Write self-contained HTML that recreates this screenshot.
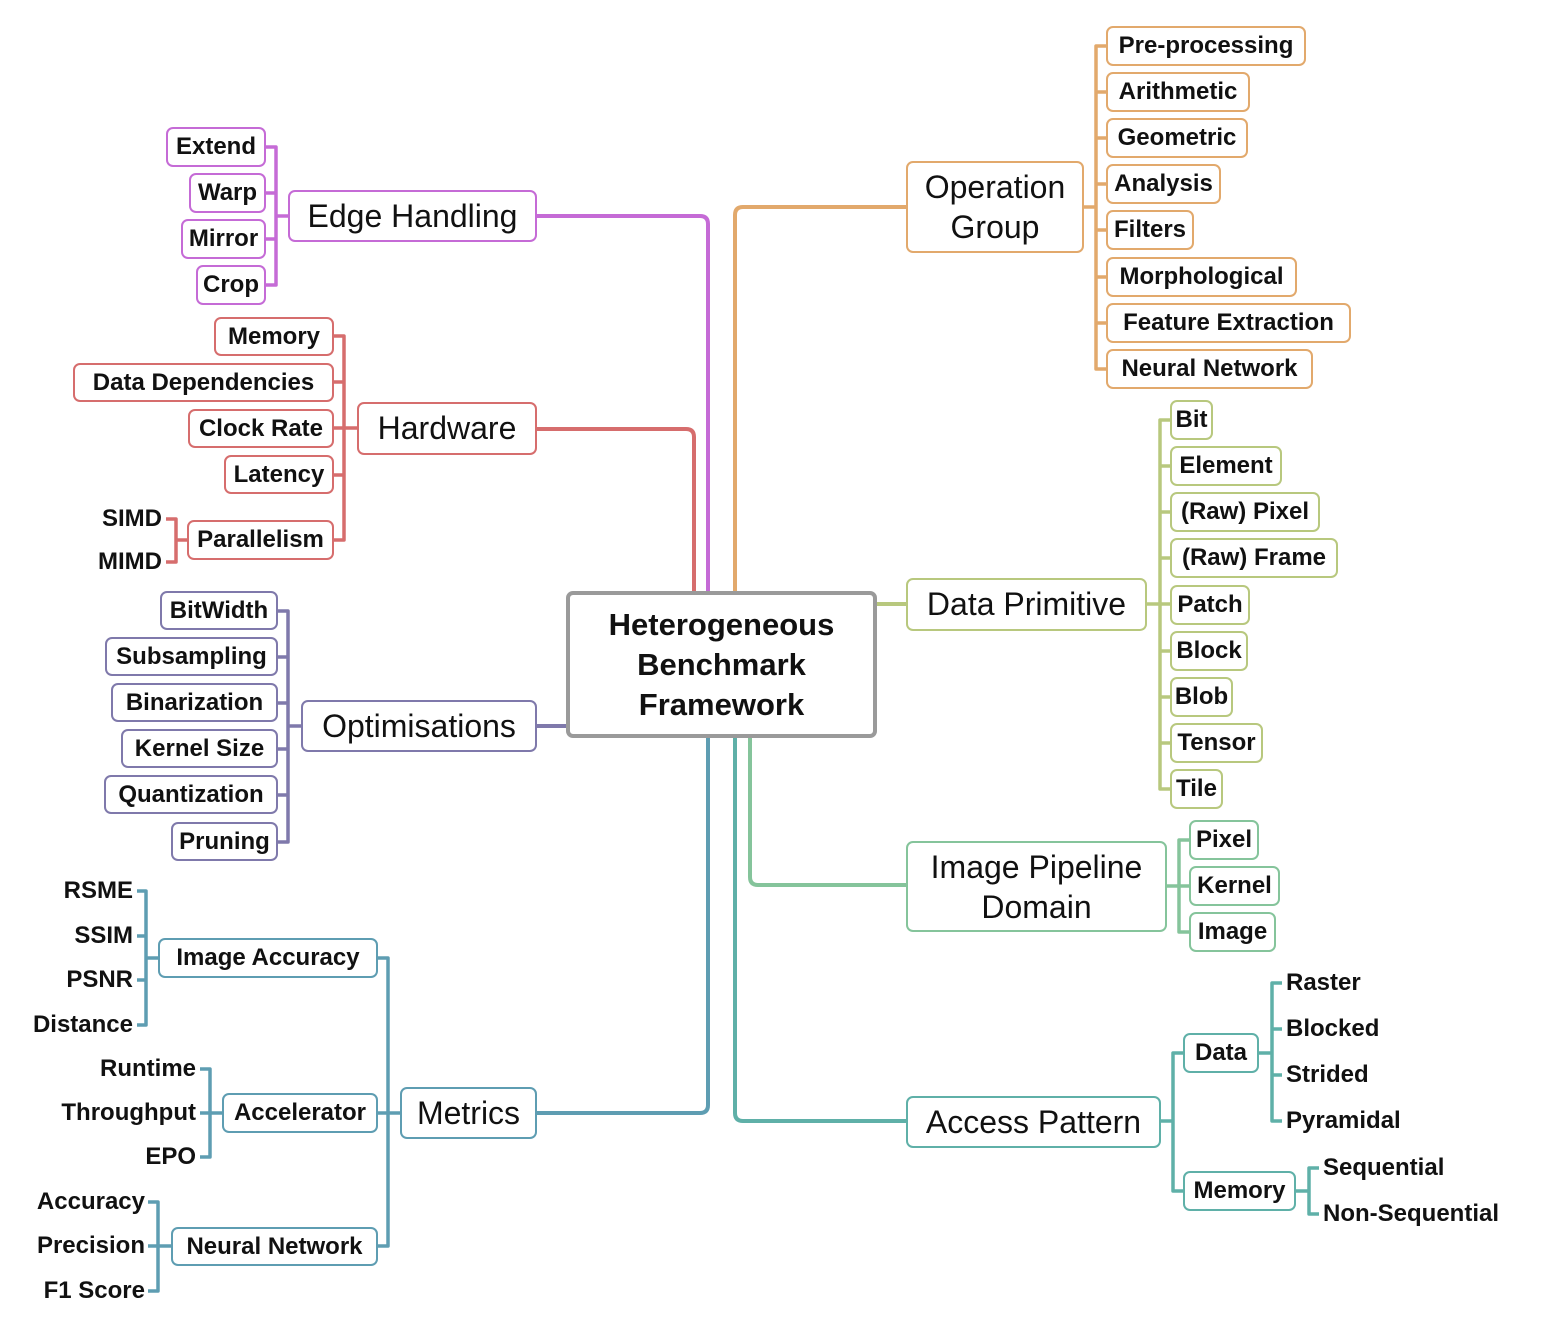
<!DOCTYPE html>
<html><head><meta charset="utf-8"><style>
html,body{margin:0;padding:0;background:#fff;}
body{width:1557px;height:1334px;position:relative;overflow:hidden;font-family:"Liberation Sans","DejaVu Sans",sans-serif;color:#111;}
.b{position:absolute;box-sizing:border-box;border:2px solid;border-radius:7px;background:#fff;display:flex;align-items:center;justify-content:center;font-weight:bold;font-size:24px;white-space:nowrap;text-align:center;line-height:1.15;}
.m{font-weight:normal;font-size:32px;}
.t{position:absolute;font-weight:bold;font-size:24px;white-space:nowrap;line-height:30px;}
.r{text-align:right;}
.pu{border-color:#c56bd6}.rd{border-color:#d66d6d}.or{border-color:#e2a96c}.gy{border-color:#b8c87e}.gr{border-color:#85c49b}.tl{border-color:#5fb0a8}.bl{border-color:#5e9db2}.sl{border-color:#7f79ab}
svg{position:absolute;left:0;top:0;}
</style></head><body>
<svg width="1557" height="1334" fill="none" stroke-width="4" stroke-linejoin="round">
<path d="M537 216 H700 Q708 216 708 224 V592" stroke="#c56bd6"/>
<path d="M537 429 H686 Q694 429 694 437 V592" stroke="#d66d6d"/>
<path d="M537 726 H566" stroke="#7f79ab"/>
<path d="M537 1113 H700 Q708 1113 708 1105 V738" stroke="#5e9db2"/>
<path d="M735 592 V215 Q735 207 743 207 H906" stroke="#e2a96c"/>
<path d="M877 604 H906" stroke="#b8c87e"/>
<path d="M750 738 V877 Q750 885 758 885 H906" stroke="#85c49b"/>
<path d="M735 738 V1113 Q735 1121 743 1121 H906" stroke="#5fb0a8"/>
<g stroke-width="3.5">
<path d="M266 147 H276 V285 H266 M266 193 H276 M266 239 H276 M276 216 H288" stroke="#c56bd6"/>
<path d="M334 336 H344 V540 H334 M334 382 H344 M334 428 H357 M334 475 H344" stroke="#d66d6d"/>
<path d="M166 519 H176 V562 H166 M176 540 H187" stroke="#d66d6d"/>
<path d="M278 611 H288 V842 H278 M278 657 H288 M278 703 H288 M278 749 H288 M278 795 H288 M288 726 H301" stroke="#7f79ab"/>
<path d="M137 891 H146 V1025 H137 M137 936 H146 M137 980 H146 M146 958 H158" stroke="#5e9db2"/>
<path d="M200 1069 H210 V1157 H200 M200 1113 H222" stroke="#5e9db2"/>
<path d="M148 1202 H158 V1291 H148 M148 1246 H171" stroke="#5e9db2"/>
<path d="M378 958 H388 V1246 H378 M378 1113 H400" stroke="#5e9db2"/>
<path d="M1084 207 H1096 M1106 46 H1096 V369 H1106 M1096 92 H1106 M1096 138 H1106 M1096 184 H1106 M1096 230 H1106 M1096 277 H1106 M1096 323 H1106" stroke="#e2a96c"/>
<path d="M1147 604 H1170 M1170 420 H1160 V789 H1170 M1160 466 H1170 M1160 512 H1170 M1160 558 H1170 M1160 651 H1170 M1160 697 H1170 M1160 743 H1170" stroke="#b8c87e"/>
<path d="M1167 886 H1189 M1189 840 H1179 V932 H1189" stroke="#85c49b"/>
<path d="M1161 1121 H1173 M1183 1053 H1173 V1191 H1183" stroke="#5fb0a8"/>
<path d="M1259 1053 H1272 M1282 983 H1272 V1121 H1282 M1272 1029 H1282 M1272 1075 H1282" stroke="#5fb0a8"/>
<path d="M1296 1191 H1309 M1319 1168 H1309 V1214 H1319" stroke="#5fb0a8"/>
</g>
</svg>

<div class="b" style="left:566px;top:591px;width:311px;height:147px;border:4px solid #9a9a9a;font-size:31px;line-height:40px;">Heterogeneous<br>Benchmark<br>Framework</div>

<div class="b m pu" style="left:288px;top:190px;width:249px;height:52px;">Edge Handling</div>
<div class="b pu" style="left:166px;top:127px;width:100px;height:40px;">Extend</div>
<div class="b pu" style="left:189px;top:173px;width:77px;height:40px;">Warp</div>
<div class="b pu" style="left:181px;top:219px;width:85px;height:40px;">Mirror</div>
<div class="b pu" style="left:196px;top:265px;width:70px;height:40px;">Crop</div>

<div class="b m rd" style="left:357px;top:402px;width:180px;height:53px;">Hardware</div>
<div class="b rd" style="left:214px;top:317px;width:120px;height:39px;">Memory</div>
<div class="b rd" style="left:73px;top:363px;width:261px;height:39px;">Data Dependencies</div>
<div class="b rd" style="left:188px;top:409px;width:146px;height:39px;">Clock Rate</div>
<div class="b rd" style="left:224px;top:455px;width:110px;height:39px;">Latency</div>
<div class="b rd" style="left:187px;top:520px;width:147px;height:40px;">Parallelism</div>
<div class="t r" style="left:60px;top:504px;width:102px;">SIMD</div>
<div class="t r" style="left:60px;top:547px;width:102px;">MIMD</div>

<div class="b m sl" style="left:301px;top:700px;width:236px;height:52px;">Optimisations</div>
<div class="b sl" style="left:160px;top:591px;width:118px;height:39px;">BitWidth</div>
<div class="b sl" style="left:105px;top:637px;width:173px;height:39px;">Subsampling</div>
<div class="b sl" style="left:111px;top:683px;width:167px;height:39px;">Binarization</div>
<div class="b sl" style="left:121px;top:729px;width:157px;height:39px;">Kernel Size</div>
<div class="b sl" style="left:104px;top:775px;width:174px;height:39px;">Quantization</div>
<div class="b sl" style="left:171px;top:822px;width:107px;height:39px;">Pruning</div>

<div class="b m bl" style="left:400px;top:1087px;width:137px;height:52px;">Metrics</div>
<div class="b bl" style="left:158px;top:938px;width:220px;height:40px;">Image Accuracy</div>
<div class="b bl" style="left:222px;top:1093px;width:156px;height:40px;">Accelerator</div>
<div class="b bl" style="left:171px;top:1227px;width:207px;height:39px;">Neural Network</div>
<div class="t r" style="left:0px;top:876px;width:133px;">RSME</div>
<div class="t r" style="left:0px;top:921px;width:133px;">SSIM</div>
<div class="t r" style="left:0px;top:965px;width:133px;">PSNR</div>
<div class="t r" style="left:0px;top:1010px;width:133px;">Distance</div>
<div class="t r" style="left:0px;top:1054px;width:196px;">Runtime</div>
<div class="t r" style="left:0px;top:1098px;width:196px;">Throughput</div>
<div class="t r" style="left:0px;top:1142px;width:196px;">EPO</div>
<div class="t r" style="left:0px;top:1187px;width:145px;">Accuracy</div>
<div class="t r" style="left:0px;top:1231px;width:145px;">Precision</div>
<div class="t r" style="left:0px;top:1276px;width:145px;">F1 Score</div>

<div class="b m or" style="left:906px;top:161px;width:178px;height:92px;line-height:40px;">Operation<br>Group</div>
<div class="b or" style="left:1106px;top:26px;width:200px;height:40px;">Pre-processing</div>
<div class="b or" style="left:1106px;top:72px;width:144px;height:40px;">Arithmetic</div>
<div class="b or" style="left:1106px;top:118px;width:142px;height:40px;">Geometric</div>
<div class="b or" style="left:1106px;top:164px;width:115px;height:40px;">Analysis</div>
<div class="b or" style="left:1106px;top:210px;width:88px;height:40px;">Filters</div>
<div class="b or" style="left:1106px;top:257px;width:191px;height:40px;">Morphological</div>
<div class="b or" style="left:1106px;top:303px;width:245px;height:40px;">Feature Extraction</div>
<div class="b or" style="left:1106px;top:349px;width:207px;height:40px;">Neural Network</div>

<div class="b m gy" style="left:906px;top:578px;width:241px;height:53px;">Data Primitive</div>
<div class="b gy" style="left:1170px;top:400px;width:43px;height:40px;">Bit</div>
<div class="b gy" style="left:1170px;top:446px;width:112px;height:40px;">Element</div>
<div class="b gy" style="left:1170px;top:492px;width:150px;height:40px;">(Raw) Pixel</div>
<div class="b gy" style="left:1170px;top:538px;width:168px;height:40px;">(Raw) Frame</div>
<div class="b gy" style="left:1170px;top:585px;width:80px;height:40px;">Patch</div>
<div class="b gy" style="left:1170px;top:631px;width:78px;height:40px;">Block</div>
<div class="b gy" style="left:1170px;top:677px;width:63px;height:40px;">Blob</div>
<div class="b gy" style="left:1170px;top:723px;width:93px;height:40px;">Tensor</div>
<div class="b gy" style="left:1170px;top:769px;width:53px;height:40px;">Tile</div>

<div class="b m gr" style="left:906px;top:841px;width:261px;height:91px;line-height:40px;">Image Pipeline<br>Domain</div>
<div class="b gr" style="left:1189px;top:820px;width:70px;height:40px;">Pixel</div>
<div class="b gr" style="left:1189px;top:866px;width:91px;height:40px;">Kernel</div>
<div class="b gr" style="left:1189px;top:912px;width:87px;height:40px;">Image</div>

<div class="b m tl" style="left:906px;top:1096px;width:255px;height:52px;">Access Pattern</div>
<div class="b tl" style="left:1183px;top:1033px;width:76px;height:40px;">Data</div>
<div class="b tl" style="left:1183px;top:1171px;width:113px;height:40px;">Memory</div>
<div class="t" style="left:1286px;top:968px;">Raster</div>
<div class="t" style="left:1286px;top:1014px;">Blocked</div>
<div class="t" style="left:1286px;top:1060px;">Strided</div>
<div class="t" style="left:1286px;top:1106px;">Pyramidal</div>
<div class="t" style="left:1323px;top:1153px;">Sequential</div>
<div class="t" style="left:1323px;top:1199px;">Non-Sequential</div>
</body></html>
